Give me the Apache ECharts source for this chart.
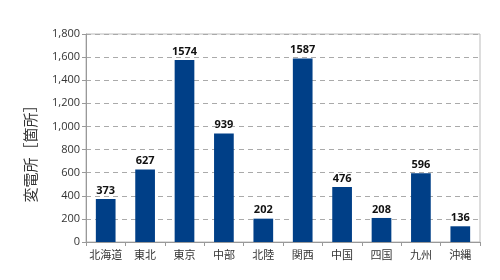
<!DOCTYPE html>
<html><head><meta charset="utf-8">
<script src="https://cdn.jsdelivr.net/npm/echarts@6/dist/echarts.min.js"></script>
<style>html,body{margin:0;padding:0;background:#fff}#c{width:500px;height:280px}</style>
</head><body><div id="c"></div>
<script>
const categories = ['北海道','東北','東京','中部','北陸','関西','中国','四国','九州','沖縄'];
const values = [373,627,1574,939,202,1587,476,208,596,136];
const yTicks = {min:0, max:1800, interval:200};
const yName = '変電所［箇所］';

const chart = echarts.init(document.getElementById('c'), null, {renderer:'canvas'});
chart.setOption({
  animation:false,
  grid:{left:86, right:20, top:34, bottom:38, show:true, borderColor:'#bbbbbb', borderWidth:1},
  graphic:[{type:'text', x:30, y:150, rotation:Math.PI/2,
    style:{text:yName, fontSize:15, fill:'#333', fontFamily:'Noto Sans CJK JP', align:'center', verticalAlign:'middle'}}],
  xAxis:{type:'category', data:categories,
    axisLine:{lineStyle:{color:'#999'}},
    axisTick:{show:true, alignWithLabel:false, length:4, lineStyle:{color:'#999'}},
    axisLabel:{interval:0, color:'#333', fontSize:11, margin:7, fontFamily:'Noto Sans CJK JP'}},
  yAxis:{type:'value', min:yTicks.min, max:yTicks.max, interval:yTicks.interval,
    axisLine:{show:true, lineStyle:{color:'#999'}},
    axisTick:{show:true, length:4, lineStyle:{color:'#999'}},
    axisLabel:{color:'#333', fontSize:11, margin:6, fontFamily:'Open Sans',
      formatter:v=>v.toLocaleString('en-US')},
    splitLine:{lineStyle:{type:[5,4], color:'#aaa'}}},
  series:[{type:'bar', data:values, barWidth:'50%',
    itemStyle:{color:'#003f87'},
    label:{show:true, position:'top', fontWeight:'bold', fontSize:11, color:'#111', distance:3, fontFamily:'Open Sans'}}]
});
</script></body></html>
